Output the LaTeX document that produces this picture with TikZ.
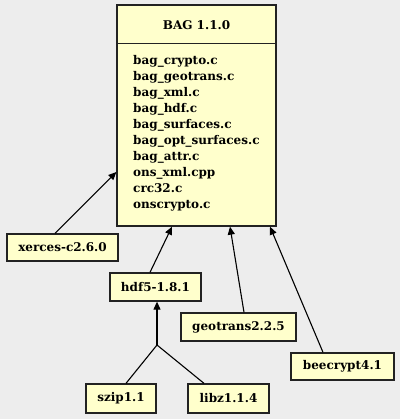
\documentclass[tikz,border=0pt]{standalone}
\usepackage{fontspec}
\setmainfont{DejaVu Serif}
\usetikzlibrary{arrows.meta,calc}
\definecolor{bgc}{HTML}{EDEDED}
\definecolor{boxc}{HTML}{FFFFCC}
\definecolor{linec}{HTML}{222222}
\tikzset{
  pkg/.style={draw=linec,line width=1.3pt,fill=boxc,inner sep=0pt,font=\fontsize{12}{16}\selectfont\bfseries},
  dep/.style={draw=black,line width=1.1pt,-{Triangle[length=8pt,width=7pt]}},
  plain/.style={draw=black,line width=1.1pt}
}
\begin{document}
\begin{tikzpicture}[x=1pt,y=-1pt]
\fill[bgc] (0,0) rectangle (400,419);
\useasboundingbox (0,0) rectangle (400,419);
\node[pkg,minimum width=159pt,minimum height=221pt] (bag) at (196.5,115.5) {};
\draw[linec,line width=1.3pt] ([yshift=-39pt]bag.north west) -- ([yshift=-39pt]bag.north east);
\node[font=\fontsize{12}{16}\selectfont\bfseries] (title) at (196.5,25) {BAG 1.1.0};
\node[font=\fontsize{12}{16}\selectfont\bfseries,align=left,anchor=north west,inner sep=0pt] (files) at (133,55) {bag\_crypto.c\\bag\_geotrans.c\\bag\_xml.c\\bag\_hdf.c\\bag\_surfaces.c\\bag\_opt\_surfaces.c\\bag\_attr.c\\ons\_xml.cpp\\crc32.c\\onscrypto.c};
\node[pkg,minimum width=111pt,minimum height=27pt] (xerces) at (62.5,247.5) {xerces-c2.6.0};
\node[pkg,minimum width=91pt,minimum height=28pt] (hdf) at (155.5,287) {hdf5-1.8.1};
\node[pkg,minimum width=115pt,minimum height=28pt] (geo) at (238.5,327) {geotrans2.2.5};
\node[pkg,minimum width=103pt,minimum height=27pt] (bee) at (342.5,366.5) {beecrypt4.1};
\node[pkg,minimum width=70pt,minimum height=29pt] (szip) at (121,398.5) {szip1.1};
\node[pkg,minimum width=81pt,minimum height=29pt] (libz) at (228.5,398.5) {libz1.1.4};
\coordinate (merge) at (157,345);
\draw[dep] ([xshift=-7.5pt]xerces.north) -- ([yshift=-56.5pt]bag.west);
\draw[dep] ([xshift=-5.5pt]hdf.north) -- ([xshift=-24.5pt]bag.south);
\draw[dep] ([xshift=5.5pt]geo.north) -- ([xshift=33.5pt]bag.south);
\draw[dep] ([xshift=-19.5pt]bee.north) -- ([xshift=73.5pt]bag.south);
\draw[plain] ([xshift=5pt]szip.north) -- (merge);
\draw[plain] ([xshift=-24.5pt]libz.north) -- (merge);
\draw[dep] (merge) -- ([xshift=1.5pt]hdf.south);
\end{tikzpicture}
\end{document}
